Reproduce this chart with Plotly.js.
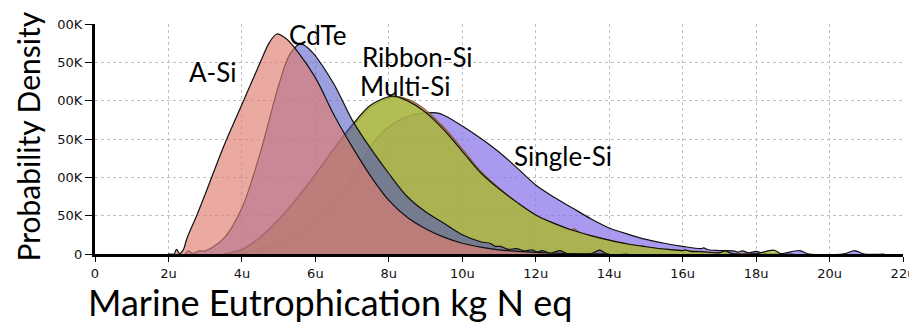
<!DOCTYPE html>
<html>
<head>
<meta charset="utf-8">
<script src="https://cdn.plot.ly/plotly-3.0.1.min.js"></script>
<style>
html,body{margin:0;padding:0;background:#fff;}
#chart{width:909px;height:332px;}
</style>
</head>
<body>
<div id="chart"></div>
<script>
// ---- data (x in units of "u" = 1e-6 kg N eq, y in thousands) ----
const xTickVals = [0, 2, 4, 6, 8, 10, 12, 14, 16, 18, 20, 22];
const xTickText = ['0', '2u', '4u', '6u', '8u', '10u', '12u', '14u', '16u', '18u', '20u', '22u'];
const yTickVals = [0, 50, 100, 150, 200, 250, 300];
const yTickText = ['0', '50K', '100K', '150K', '200K', '250K', '300K'];

const seriesNames = ['Single-Si', 'Ribbon-Si', 'Multi-Si', 'CdTe', 'A-Si'];

const singleX = [3.5, 4.0, 4.5, 5.0, 5.5, 6.0, 6.5, 7.0, 7.5, 8.0, 8.5, 9.0, 9.3, 9.5, 10.0, 10.5, 11.0, 11.5, 12.0, 12.5, 13.0, 13.5, 14.0, 14.5, 15.0, 15.5, 16.0, 16.5, 16.57, 16.7, 17.0, 17.39, 17.5, 17.63, 17.8, 18.0, 18.2, 18.7, 19.19, 19.4, 20.4, 20.68, 20.95, 21.5];
const singleY = [0, 2, 6, 14, 27, 45, 68, 100, 140, 166, 179, 184, 184, 181, 167, 151, 133, 112, 90, 74, 60, 46, 34, 26, 19, 14, 10, 7, 8, 5.5, 4.5, 4, 2.5, 4, 1.5, 3.5, 1, 0.5, 4.5, 0.3, 0.2, 4.5, 0, 0];

const ribbonX = [3.5, 4.0, 4.5, 5.0, 5.5, 6.0, 6.5, 7.0, 7.5, 8.15, 8.5, 9.0, 9.5, 10.0, 10.5, 11.0, 11.5, 12.0, 12.5, 13.0, 13.03, 13.2, 13.5, 14.0, 14.5, 15.0, 15.5, 16.0, 16.5, 17.0, 17.5, 18.0];
const ribbonY = [0, 5, 20, 42, 70, 101, 134, 165, 191, 205, 202, 188, 165, 137, 108, 86, 67, 51, 40, 31, 33, 28, 24, 18, 13, 9.5, 6.5, 4.5, 3, 1.5, 0.5, 0];

const multiX = [3.5, 4.0, 4.5, 5.0, 5.5, 6.0, 6.5, 7.0, 7.5, 8.1, 8.5, 9.0, 9.5, 10.0, 10.5, 11.0, 11.5, 12.0, 12.5, 13.0, 13.5, 14.0, 14.5, 15.0, 15.5, 16.0, 16.07, 16.2, 16.5, 17.0, 17.16, 17.35, 18.0, 18.48, 18.7, 19.0];
const multiY = [0, 6, 22, 45, 73, 104, 137, 168, 194, 206, 200, 185, 162, 134, 106, 85, 67, 51, 40, 31, 24, 18, 13, 9.5, 6.5, 4.5, 5.5, 3.5, 3, 1.5, 4, 0.5, 0.5, 5, 0, 0];

const cdteX = [2.0, 2.45, 2.53, 2.65, 2.86, 3.0, 3.5, 4.0, 4.5, 5.0, 5.3, 5.6, 5.9, 6.5, 7.0, 7.5, 8.0, 8.5, 9.0, 9.5, 10.0, 10.5, 10.75, 10.9, 11.04, 11.25, 11.47, 11.7, 11.9, 12.05, 12.17, 12.4, 12.67, 12.85, 13.5, 13.74, 13.95, 14.5];
const cdteY = [0, 0, 4, 1, 4, 4, 20, 60, 132, 220, 260, 274, 264, 222, 175, 138, 105, 75, 55, 40, 25, 16, 14, 10, 10, 6, 7, 4, 5.5, 2.5, 4.5, 1, 4.5, 0.5, 0.3, 5, 0, 0];

const asiX = [2.0, 2.15, 2.22, 2.3, 2.4, 2.5, 2.75, 3.0, 3.5, 4.0, 4.5, 4.75, 4.95, 5.2, 5.5, 6.0, 6.5, 7.0, 7.5, 8.0, 8.5, 9.0, 9.5, 10.0, 10.5, 11.0, 11.5, 12.0, 12.5, 13.0, 14.0];
const asiY = [0, 0, 6, 0.5, 5, 20, 48, 78, 140, 195, 250, 276, 287, 281, 265, 230, 182, 140, 102, 70, 48, 33, 22, 14, 9, 5.5, 3.5, 2, 1, 0.5, 0];

const seriesX = [singleX, ribbonX, multiX, cdteX, asiX];
const seriesY = [singleY, ribbonY, multiY, cdteY, asiY];
const fillColors = ['rgba(140,120,235,0.75)', 'rgba(215,140,60,0.5)', 'rgba(164,186,65,0.8)', 'rgba(75,80,195,0.55)', 'rgba(225,125,110,0.65)'];
const lineColors = ['#111', '#8a5a1e', '#111', '#111', '#111'];

const traces = seriesNames.map((name, i) => ({
  type: 'scatter',
  mode: 'lines',
  name: name,
  x: seriesX[i],
  y: seriesY[i],
  fill: 'tozeroy',
  fillcolor: fillColors[i],
  line: {color: lineColors[i], width: 1.2, shape: 'spline', smoothing: 0.9},
  hoverinfo: 'x+y+name'
}));

const labelFont = {family: 'Lato, "Open Sans", sans-serif', size: 26, color: '#000'};
const tickFont = {family: '"DejaVu Sans", "Liberation Sans", sans-serif', size: 13, color: '#111'};

const layout = {
  width: 909,
  height: 332,
  margin: {l: 95, r: 6, t: 24, b: 78, pad: 0},
  paper_bgcolor: '#fff',
  plot_bgcolor: '#fff',
  showlegend: false,
  xaxis: {
    range: [0, 22],
    tickvals: xTickVals,
    ticktext: xTickText,
    ticklabeloverflow: 'allow',
    showgrid: true,
    gridcolor: '#c0c0c0',
    griddash: 'dot',
    gridwidth: 1,
    zeroline: false,
    showline: true,
    linecolor: '#000',
    linewidth: 3,
    ticks: 'outside',
    ticklen: 5,
    tickwidth: 1,
    tickcolor: '#000',
    tickfont: tickFont,
    fixedrange: true
  },
  yaxis: {
    range: [0, 300],
    tickvals: yTickVals,
    ticktext: yTickText,
    showgrid: true,
    gridcolor: '#c0c0c0',
    griddash: 'dot',
    gridwidth: 1,
    zeroline: false,
    showline: true,
    linecolor: '#000',
    linewidth: 3,
    ticks: 'outside',
    ticklen: 7,
    tickwidth: 1,
    tickcolor: '#000',
    tickfont: tickFont,
    fixedrange: true
  },
  annotations: [
    {text: 'A-Si', x: 3.21, y: 237, xref: 'x', yref: 'y', showarrow: false, font: labelFont, xanchor: 'center', yanchor: 'middle'},
    {text: 'CdTe', x: 6.07, y: 286, xref: 'x', yref: 'y', showarrow: false, font: labelFont, xanchor: 'center', yanchor: 'middle'},
    {text: 'Ribbon-Si', x: 8.78, y: 257, xref: 'x', yref: 'y', showarrow: false, font: labelFont, xanchor: 'center', yanchor: 'middle'},
    {text: 'Multi-Si', x: 8.44, y: 219, xref: 'x', yref: 'y', showarrow: false, font: labelFont, xanchor: 'center', yanchor: 'middle'},
    {text: 'Single-Si', x: 12.74, y: 128, xref: 'x', yref: 'y', showarrow: false, font: labelFont, xanchor: 'center', yanchor: 'middle'},
    // y-axis title on a white panel that hides the left part of the tick labels, as in the reference
    {text: 'Probability Density', xref: 'paper', yref: 'paper', x: -0.0823, y: 0.509, textangle: -90,
     width: 296, height: 57, bgcolor: '#fff', borderpad: 0,
     showarrow: false, xanchor: 'center', yanchor: 'middle',
     font: {family: 'Lato, "Open Sans", sans-serif', size: 30, color: '#000'}},
    {text: 'Marine Eutrophication kg N eq', xref: 'paper', yref: 'paper', x: 0.2908, y: -0.209,
     showarrow: false, xanchor: 'center', yanchor: 'middle',
     font: {family: 'Lato, "Open Sans", sans-serif', size: 36, color: '#000'}}
  ]
};

Plotly.newPlot('chart', traces, layout, {displayModeBar: false, staticPlot: true});
</script>
</body>
</html>
